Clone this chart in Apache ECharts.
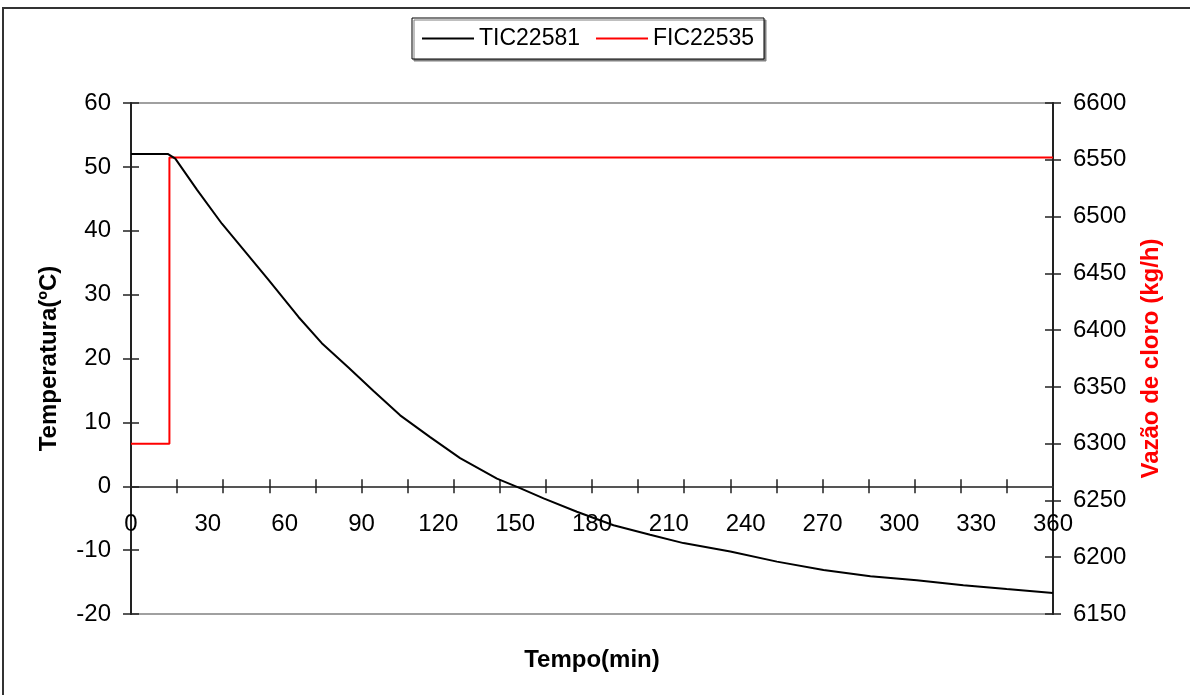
<!DOCTYPE html>
<html>
<head>
<meta charset="utf-8">
<script src="https://cdn.jsdelivr.net/npm/echarts@6/dist/echarts.min.js"></script>
<style>
    html, body { margin: 0; padding: 0; background: #fff; }
    #charts { width: 1190px; height: 695px; }
</style>
</head>
<body>
<div id="charts"></div>
<script>
// dados
var tempoTic = [0, 14.5, 17.3, 25.8, 35.5, 44.0, 53.7, 65.4, 74.5, 84.9, 94.7, 105.1, 116.8, 128.5, 142.9,
    151.9, 161.1, 174.1, 188.4, 202.7, 215.7, 234, 252.2, 270.4, 288.7, 306.8, 325, 341.9, 360];
var tic22581 = [52, 52, 51.3, 46.4, 41.1, 37.0, 32.3, 26.5, 22.4, 18.6, 14.9, 11.1, 7.7, 4.4, 1.2,
    -0.3, -1.9, -4.0, -6.1, -7.6, -8.9, -10.2, -11.8, -13.1, -14.1, -14.7, -15.5, -16.1, -16.7];
var tempoFic = [0, 15, 15, 360];
var fic22535 = [6300, 6300, 6552, 6552];

var tempoTicks = [0, 360, 30];      // min, max, intervalo dos rótulos
var tempoMarcas = 18;               // intervalo das marcas no eixo x
var tempTicks = [-20, 60, 10];
var vazaoTicks = [6150, 6600, 50];

var fonte = '"Liberation Sans", Arial, sans-serif';

// altura da área de plotagem (px) e distância do zero até a base
var gridTop = 103, gridBottom = 81, alturaGrid = 695 - gridTop - gridBottom;
var offsetZero = -alturaGrid * (0 - tempTicks[0]) / (tempTicks[1] - tempTicks[0]);

function pares(xs, ys) {
    return xs.map(function (x, i) { return [x, ys[i]]; });
}

var labelStyle = { color: '#000', fontSize: 24, fontFamily: fonte };
var tickStyle = { color: '#222', width: 1.5 };

function eixoY(ticks, pos, extra) {
    var ax = {
        type: 'value',
        position: pos,
        min: ticks[0],
        max: ticks[1],
        interval: ticks[2],
        splitLine: { show: false },
        axisLine: { show: true, onZero: false, lineStyle: { color: '#222', width: 2 } },
        axisTick: { show: true, length: 8, lineStyle: tickStyle },
        axisLabel: Object.assign({ margin: 20, formatter: function (v) { return String(v); } }, labelStyle)
    };
    return Object.assign(ax, extra || {});
}

function eixoX(extra) {
    var ax = {
        type: 'value',
        position: 'bottom',
        min: tempoTicks[0],
        max: tempoTicks[1],
        interval: tempoTicks[2],
        splitLine: { show: false },
        axisLine: { show: true, onZero: true, onZeroAxisIndex: 0, lineStyle: { color: '#555', width: 2 } },
        axisTick: { show: false },
        axisLabel: { show: false }
    };
    return Object.assign(ax, extra || {});
}

var option = {
    animation: false,
    backgroundColor: '#fff',
    grid: {
        left: 131,
        right: 137,
        top: gridTop,
        bottom: gridBottom,
        show: true,
        borderColor: '#a0a0a0',
        borderWidth: 2,
        backgroundColor: 'transparent'
    },
    legend: {
        left: 412,
        top: 18,
        padding: [9, 10, 9, 10],
        itemGap: 16,
        itemWidth: 52,
        itemHeight: 2,
        icon: 'rect',
        backgroundColor: '#fff',
        borderColor: '#000',
        borderWidth: 1,
        shadowColor: '#808080',
        shadowOffsetX: 2,
        shadowOffsetY: 2,
        shadowBlur: 0,
        textStyle: { color: '#000', fontSize: 23, fontFamily: fonte },
        data: ['TIC22581', 'FIC22535']
    },
    xAxis: [
        eixoX(),
        eixoX({ interval: tempoMarcas, axisLine: { show: false, onZero: true, onZeroAxisIndex: 0 },
            axisTick: { show: true, inside: true, length: 7, lineStyle: tickStyle } }),
        eixoX({ interval: tempoMarcas, axisLine: { show: false, onZero: true, onZeroAxisIndex: 0 },
            axisTick: { show: true, inside: false, length: 7, lineStyle: tickStyle } }),
        // rótulos do eixo x, deslocados até a linha do zero
        eixoX({ axisLine: { show: false, onZero: false }, offset: offsetZero,
            axisLabel: Object.assign({ show: true, margin: 26 }, labelStyle) })
    ],
    yAxis: [
        eixoY(tempTicks, 'left', {
            name: 'Temperatura(ºC)',
            nameLocation: 'middle',
            nameRotate: 90,
            nameGap: 70,
            nameTextStyle: { color: '#000', fontSize: 24, fontWeight: 'bold', fontFamily: fonte }
        }),
        eixoY(vazaoTicks, 'right', {
            name: 'Vazão de cloro (kg/h)',
            nameLocation: 'middle',
            nameRotate: 90,
            nameGap: 86,
            nameTextStyle: { color: '#ff0000', fontSize: 24, fontWeight: 'bold', fontFamily: fonte }
        }),
        eixoY(tempTicks, 'left', { axisLabel: { show: false }, axisLine: { show: false, onZero: false },
            axisTick: { show: true, inside: true, length: 8, lineStyle: tickStyle } }),
        eixoY(vazaoTicks, 'right', { axisLabel: { show: false }, axisLine: { show: false, onZero: false },
            axisTick: { show: true, inside: true, length: 8, lineStyle: tickStyle } })
    ],
    graphic: [
        {
            type: 'rect',
            shape: { x: 3, y: 8, width: 1250, height: 750 },
            style: { fill: 'none', stroke: '#333', lineWidth: 2 },
            silent: true
        },
        {
            type: 'text',
            x: 592,
            y: 660,
            style: {
                text: 'Tempo(min)',
                fill: '#000',
                font: 'bold 24px ' + fonte,
                textAlign: 'center',
                textVerticalAlign: 'middle'
            }
        }
    ],
    series: [
        {
            name: 'TIC22581',
            type: 'line',
            xAxisIndex: 0,
            yAxisIndex: 0,
            symbol: 'none',
            lineStyle: { color: '#000', width: 2 },
            itemStyle: { color: '#000' },
            data: pares(tempoTic, tic22581),
            z: 3
        },
        {
            name: 'FIC22535',
            type: 'line',
            xAxisIndex: 0,
            yAxisIndex: 1,
            symbol: 'none',
            lineStyle: { color: '#ff0000', width: 2 },
            itemStyle: { color: '#ff0000' },
            data: pares(tempoFic, fic22535),
            z: 2
        }
    ]
};

var myChart = echarts.init(document.getElementById('charts'), null, { renderer: 'canvas' });
myChart.setOption(option);
</script>
</body>
</html>
